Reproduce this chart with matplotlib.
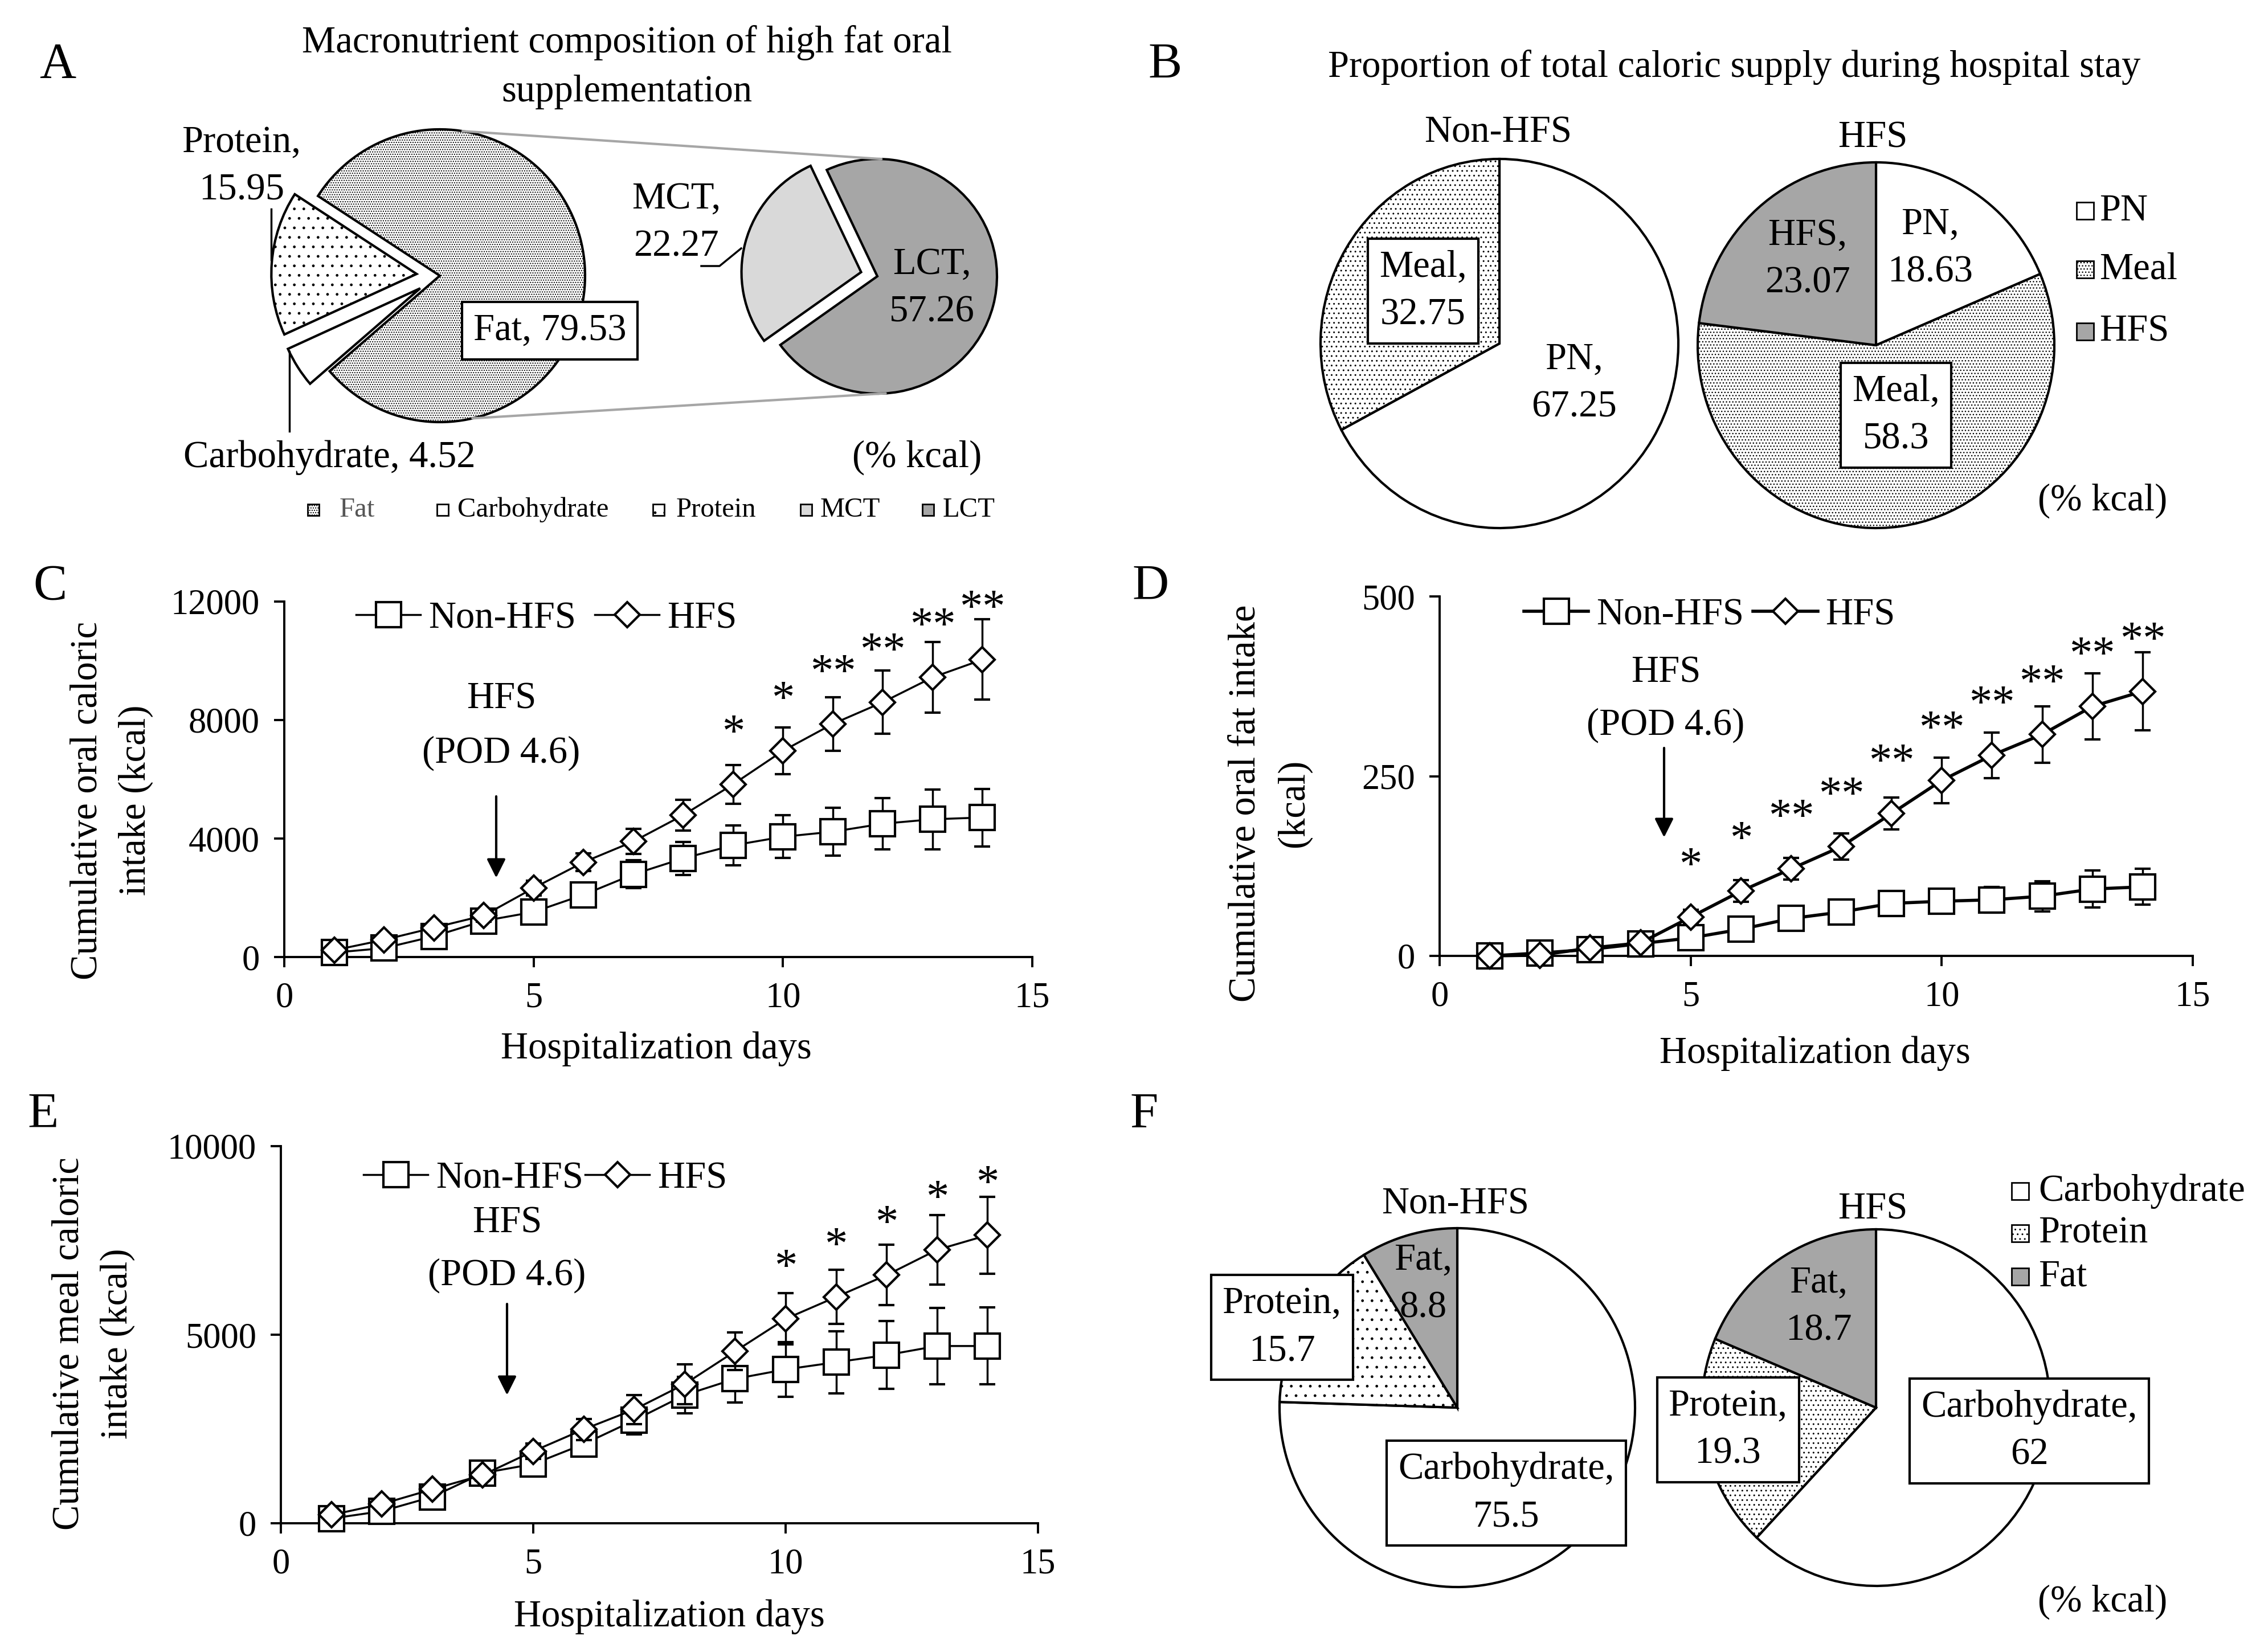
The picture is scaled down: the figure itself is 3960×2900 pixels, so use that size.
import numpy as np
import matplotlib
matplotlib.use('Agg')
import matplotlib.pyplot as plt
from matplotlib.lines import Line2D
from matplotlib.patches import Rectangle, ConnectionPatch

plt.rcParams['font.family'] = ['Liberation Serif', 'DejaVu Serif']
plt.rcParams['hatch.linewidth'] = 1.0

W, H = 3960, 2900

# A: macronutrients of the high fat supplement (% kcal)
a_labels = ['Fat', 'Carbohydrate', 'Protein']
a_values = [79.53, 4.52, 15.95]
fat_labels = ['MCT', 'LCT']
fat_values = [22.27, 57.26]

# B: share of total caloric supply (% kcal)
b_labels = ['PN', 'Meal', 'HFS']
b_non_hfs = [67.25, 32.75]
b_hfs = [18.63, 58.3, 23.07]

# C-E: cumulative intake per hospital day, mean and SD
days = list(range(1, 15))
c_non = [150, 300, 700, 1220, 1520, 2100, 2790, 3330, 3770, 4060, 4230, 4500, 4650, 4710]
c_non_sd = [60, 100, 160, 230, 300, 380, 470, 560, 670, 720, 800, 870, 1010, 970]
c_hfs = [230, 580, 990, 1400, 2330, 3200, 3900, 4790, 5830, 6960, 7870, 8600, 9440, 10040]
c_hfs_sd = [60, 100, 150, 200, 250, 300, 420, 520, 650, 790, 900, 1070, 1190, 1355]
c_stars = ['', '', '', '', '', '', '', '', '*', '*', '**', '**', '**', '**']

d_non = [0, 4, 9, 17, 25, 37, 52, 61, 73, 76, 78, 83, 93, 96]
d_non_sd = [1, 2, 3, 5, 7, 9, 10, 12, 14, 16, 18, 21, 26, 25]
d_hfs = [0, 1, 11, 18, 54, 90, 121, 152, 198, 244, 279, 308, 347, 368]
d_hfs_sd = [1, 2, 4, 6, 10, 15, 15, 18, 22, 32, 32, 39, 46, 54]
d_stars = ['', '', '', '', '*', '*', '**', '**', '**', '**', '**', '**', '**', '**']

e_non = [125, 320, 700, 1330, 1570, 2100, 2730, 3400, 3830, 4080, 4270, 4460, 4700, 4700]
e_non_sd = [40, 80, 130, 180, 230, 300, 380, 480, 630, 720, 820, 900, 1010, 1020]
e_hfs = [220, 510, 900, 1280, 1910, 2490, 3015, 3690, 4560, 5420, 6000, 6580, 7250, 7640]
e_hfs_sd = [40, 70, 110, 150, 200, 280, 390, 530, 500, 680, 720, 800, 920, 1020]
e_stars = ['', '', '', '', '', '', '', '', '', '*', '*', '*', '*', '*']

# F: macronutrient share of meals (% kcal)
f_labels = ['Carbohydrate', 'Protein', 'Fat']
f_non_hfs = [75.5, 15.7, 8.8]
f_hfs = [62, 19.3, 18.7]

GRAY = '#a6a6a6'
LIGHT = '#d9d9d9'
FS = 48

fig = plt.figure(figsize=(W / 100, H / 100), dpi=100)
ov = fig.add_axes([0, 0, 1, 1], zorder=5)
ov.set_xlim(0, W)
ov.set_ylim(H, 0)
ov.axis('off')


def rect_px(x0, y0, x1, y1):
    return [x0 / W, 1 - y1 / H, (x1 - x0) / W, (y1 - y0) / H]


def pie(cx, cy, rx, ry, values, start, fills, hatches, explode=None, ccw=False):
    ax = fig.add_axes(rect_px(cx - rx, cy - ry, cx + rx, cy + ry))
    wedges, _ = ax.pie(values, startangle=start, counterclock=ccw, explode=explode,
                       wedgeprops=dict(edgecolor='black', linewidth=3))
    for w, fc, h in zip(wedges, fills, hatches):
        w.set_facecolor(fc)
        w.set_hatch(h)
        w.set_clip_on(False)
    ax.set_aspect('auto')
    ax.set_xlim(-1, 1)
    ax.set_ylim(-1, 1)
    ax.axis('off')
    return ax


def label(x, y, s, size=FS, box=False, ls=1.47, **kw):
    bbox = None
    if box:
        bbox = dict(boxstyle='square,pad=0.3', fc='white', ec='black', lw=3)
    ov.text(x, y, s, ha='center', va='center', fontsize=size, linespacing=ls,
            bbox=bbox, **kw)


def swatches(xs, ys, fills, hatches, size):
    for x, y, fc, h in zip(xs, ys, fills, hatches):
        ov.add_patch(Rectangle((x - size / 2, y - size / 2), size, size, fc=fc,
                               ec='black', lw=2, hatch=h))


def line_panel(box, non, non_sd, hfs, hfs_sd, ymax, yticks, stars, lw, leg_xy, colsp):
    ax = fig.add_axes(rect_px(*box))
    style = dict(color='black', mfc='white', mec='black', lw=lw, elinewidth=2.5,
                 capsize=10, capthick=2.5, clip_on=False)
    ax.errorbar(days, non, yerr=non_sd, fmt='-s', ms=32, mew=3, zorder=3, **style)
    ax.errorbar(days, hfs, yerr=hfs_sd, fmt='-D', ms=22, mew=3, zorder=4, **style)
    for d, m, s in zip(days, hfs, stars):
        if s:
            ax.annotate(s, (d, m), xytext=(0, 63), textcoords='offset points',
                        ha='center', va='center', fontsize=58)
    ax.set_xlim(0, 15)
    ax.set_ylim(0, ymax)
    ax.set_xticks([0, 5, 10, 15])
    ax.set_yticks(yticks)
    for side in ['top', 'right']:
        ax.spines[side].set_visible(False)
    for side in ['left', 'bottom']:
        ax.spines[side].set_linewidth(2.8)
    ax.tick_params(direction='out', length=13, width=2.8, labelsize=45, pad=18)
    handles = [Line2D([], [], color='black', lw=lw, marker='s', ms=32, mfc='white', mew=3),
               Line2D([], [], color='black', lw=lw, marker='D', ms=22, mfc='white', mew=3)]
    ax.legend(handles, ['Non-HFS', 'HFS'], ncol=2, frameon=False, loc='center left',
              bbox_to_anchor=leg_xy, bbox_transform=ov.transData, fontsize=FS,
              handlelength=1.7, handletextpad=0.2, columnspacing=colsp,
              borderpad=0, borderaxespad=0, numpoints=1)
    return ax


def arrow(x, y0, y1):
    ov.annotate('', xy=(x, y1), xytext=(x, y0),
                arrowprops=dict(arrowstyle='-|>', color='black', lw=3,
                                mutation_scale=50, shrinkA=0, shrinkB=0))


# ---- panel A
ax_a1 = pie(772, 484, 255, 257, a_values, 147, ['white'] * 3, ['....', '', '.'],
            explode=[0, 0.16, 0.16])
ax_a2 = pie(1540, 485, 210, 206, fat_values, 115, [LIGHT, GRAY], ['', ''],
            explode=[0.14, 0], ccw=True)
for ta, tb in [(81, 88), (-77, -86)]:
    ra, rb = np.deg2rad(ta), np.deg2rad(tb)
    con = ConnectionPatch(xyA=(np.cos(ra), np.sin(ra)), coordsA=ax_a1.transData,
                          xyB=(np.cos(rb), np.sin(rb)), coordsB=ax_a2.transData,
                          color=GRAY, lw=3)
    fig.add_artist(con)

ov.text(101, 114, 'A', ha='center', va='center', fontsize=64)
label(1100, 118, 'Macronutrient composition of high fat oral\nsupplementation', ls=1.55)
label(424, 292, 'Protein,\n15.95')
label(578, 803, 'Carbohydrate, 4.52')
label(965, 580, 'Fat, 79.53', box=True)
label(1187, 391, 'MCT,\n22.27')
label(1636, 506, 'LCT,\n57.26')
label(1610, 803, '(% kcal)')
ov.plot([476, 476], [367, 456], color='black', lw=2.5)
ov.plot([508, 508], [617, 757], color='black', lw=2.5)
ov.plot([1231, 1263, 1301], [467, 467, 436], color='black', lw=2.5)

swatches([550, 777, 1156, 1415, 1629], [895] * 5,
         ['white', 'white', 'white', LIGHT, GRAY], ['....', '', '.', '', ''], 20)
for x, s, c in zip([596, 803, 1187, 1440, 1655], a_labels + fat_labels,
                   ['#555555', 'black', 'black', 'black', 'black']):
    ov.text(x, 895, s, ha='left', va='center', fontsize=35, color=c)

# ---- panel B
pie(2632, 603, 314, 324, b_non_hfs, 90, ['white', 'white'], ['', '..'])
pie(3293, 606, 313, 321, b_hfs, 90, ['white', 'white', GRAY], ['', '...', ''])
ov.text(2045, 114, 'B', ha='center', va='center', fontsize=64)
label(3044, 118, 'Proportion of total caloric supply during hospital stay')
label(2630, 233, 'Non-HFS')
label(3287, 242, 'HFS')
label(2498, 511, 'Meal,\n32.75', box=True)
label(2763, 673, 'PN,\n67.25')
label(3173, 455, 'HFS,\n23.07')
label(3388, 436, 'PN,\n18.63')
label(3328, 729, 'Meal,\n58.3', box=True)
swatches([3660] * 3, [370, 473, 582], ['white', 'white', GRAY], ['', '...', ''], 30)
for y, s in zip([370, 473, 582], b_labels):
    ov.text(3685, y, s, ha='left', va='center', fontsize=FS)
label(3691, 879, '(% kcal)')

# ---- panel C
line_panel((499, 1056, 1812, 1680), c_non, c_non_sd, c_hfs, c_hfs_sd, 12000,
           [0, 4000, 8000, 12000], c_stars, 2.5, (625, 1086), 0.5)
ov.text(88, 1030, 'C', ha='center', va='center', fontsize=64)
label(196, 1405, 'Cumulative oral caloric\nintake (kcal)', rotation=90, ls=1.5)
label(1152, 1841, 'Hospitalization days')
label(880, 1275, 'HFS\n(POD 4.6)', ls=1.73)
arrow(871, 1398, 1541)

# ---- panel D
line_panel((2527, 1047, 3849, 1678), d_non, d_non_sd, d_hfs, d_hfs_sd, 500,
           [0, 250, 500], d_stars, 4, (2675, 1080), 0.25)
ov.text(2020, 1030, 'D', ha='center', va='center', fontsize=64)
label(2229, 1410, 'Cumulative oral fat intake\n(kcal)', rotation=90, ls=1.5)
label(3186, 1849, 'Hospitalization days')
label(2924, 1227, 'HFS\n(POD 4.6)', ls=1.65)
arrow(2921, 1313, 1470)

# ---- panel E
line_panel((493, 2012, 1822, 2674), e_non, e_non_sd, e_hfs, e_hfs_sd, 10000,
           [0, 5000, 10000], e_stars, 2.5, (638, 2069), 0.05)
ov.text(76, 1957, 'E', ha='center', va='center', fontsize=64)
label(164, 2359, 'Cumulative meal caloric\nintake (kcal)', rotation=90, ls=1.5)
label(1175, 2838, 'Hospitalization days')
label(890, 2193, 'HFS\n(POD 4.6)', ls=1.65)
arrow(890, 2289, 2449)

# ---- panel F
pie(2558, 2471, 312, 315, f_non_hfs, 90, ['white', 'white', GRAY], ['', '.', ''])
pie(3293, 2471, 306, 313, f_hfs, 90, ['white', 'white', GRAY], ['', '..', ''])
ov.text(2008, 1957, 'F', ha='center', va='center', fontsize=64)
label(2555, 2114, 'Non-HFS')
label(3287, 2123, 'HFS')
label(2498, 2254, 'Fat,\n8.8')
label(2250, 2330, 'Protein,\n15.7', box=True)
label(2644, 2621, 'Carbohydrate,\n75.5', box=True)
label(3192, 2294, 'Fat,\n18.7')
label(3033, 2510, 'Protein,\n19.3', box=True)
label(3562, 2512, 'Carbohydrate,\n62', box=True)
swatches([3546] * 3, [2091, 2165, 2241], ['white', 'white', GRAY], ['', '..', ''], 30)
for y, s in zip([2091, 2165, 2241], f_labels):
    ov.text(3578, y, s, ha='left', va='center', fontsize=FS)
label(3691, 2812, '(% kcal)')

fig.savefig('out.png', dpi=100, facecolor='white')
